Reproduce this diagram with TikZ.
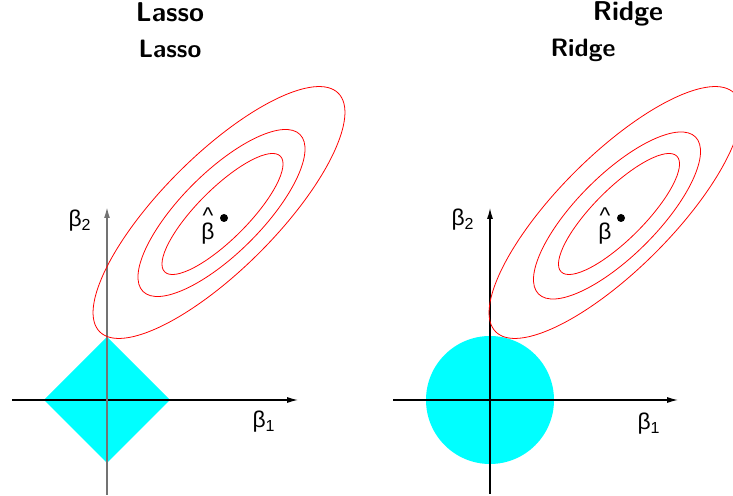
\documentclass[tikz,border=0pt]{standalone}
\usepackage{fontspec}
\newfontfamily\grk{Liberation Sans}
\usetikzlibrary{arrows.meta}
\definecolor{aqua}{RGB}{0,255,255}
\begin{document}
\begin{tikzpicture}[x=0.02cm, y=0.02cm,
  bigtitle/.style={font=\sffamily\bfseries\fontsize{15.5}{18}\selectfont, anchor=base, inner sep=0},
  smalltitle/.style={font=\sffamily\bfseries\fontsize{14.3}{17}\selectfont, anchor=base, inner sep=0},
  axis/.style={-{Latex[length=0.22cm, width=0.12cm]}, line width=0.7pt},
  contour/.style={red, line width=0.45pt},
  region/.style={fill=aqua, draw=none},
  greek/.style={font=\grk\fontsize{13}{13}\selectfont, inner sep=0},
  hatlabel/.style={font=\grk\fontsize{13}{13}\selectfont, inner sep=0, align=center},
  optdot/.style={circle, fill=black, inner sep=0, minimum size=0.16cm}]
  \useasboundingbox (0,0) rectangle (733,496);
  \node[bigtitle] (lassoTop) at (170,474) {Lasso};
  \node[smalltitle] (lassoSub) at (170,438) {Lasso};
  \node[bigtitle] (ridgeTop) at (628,475) {Ridge};
  \node[smalltitle] (ridgeSub) at (583,439) {Ridge};

  \coordinate (lassoO) at (107,96);
  \coordinate (lassoW) at (12,96);
  \coordinate (lassoE) at (298,96);
  \coordinate (lassoS) at (107,1);
  \coordinate (lassoN) at (107,289);
  \fill[region] (44,96) -- (107,159) -- (170,96) -- (107,33) -- cycle;
  \draw[axis] (lassoW) -- (lassoE);
  \draw[axis, draw=black!55, fill=black, line width=0.9pt] (lassoS) -- (lassoN);
  \coordinate (lassoC1) at (219,283.5);
  \coordinate (lassoC2) at (221.5,283);
  \coordinate (lassoC3) at (222.5,282);
  \draw[contour, rotate around={45:(lassoC1)}] (lassoC1) ellipse (168.7 and 57);
  \draw[contour, rotate around={45:(lassoC2)}] (lassoC2) ellipse (111 and 40.3);
  \draw[contour, rotate around={45:(lassoC3)}] (lassoC3) ellipse (81.8 and 25.2);
  \node[optdot] (lassoOpt) at (224,278) {};
  \node[hatlabel] (lassoHat) at (208,270) {\textasciicircum\\[-0.3em]β};
  \node[greek] (lassoB1) at (264,74) {β\textsubscript{1}};
  \node[greek] (lassoB2) at (80,275) {β\textsubscript{2}};

  \coordinate (ridgeO) at (490,96);
  \coordinate (ridgeW) at (393,96);
  \coordinate (ridgeE) at (678,96);
  \coordinate (ridgeS) at (490,2);
  \coordinate (ridgeN) at (490,288);
  \fill[region] (ridgeO) circle (64);
  \draw[axis] (ridgeW) -- (ridgeE);
  \draw[axis] (ridgeS) -- (ridgeN);
  \coordinate (ridgeC1) at (615,283.5);
  \coordinate (ridgeC2) at (617,280.5);
  \coordinate (ridgeC3) at (619,282);
  \draw[contour, rotate around={45:(ridgeC1)}] (ridgeC1) ellipse (168.7 and 57);
  \draw[contour, rotate around={45:(ridgeC2)}] (ridgeC2) ellipse (111 and 40.3);
  \draw[contour, rotate around={45:(ridgeC3)}] (ridgeC3) ellipse (81.8 and 25.2);
  \node[optdot] (ridgeOpt) at (621,278) {};
  \node[hatlabel] (ridgeHat) at (605,270) {\textasciicircum\\[-0.3em]β};
  \node[greek] (ridgeB1) at (649,72) {β\textsubscript{1}};
  \node[greek] (ridgeB2) at (463,276) {β\textsubscript{2}};
\end{tikzpicture}
\end{document}
